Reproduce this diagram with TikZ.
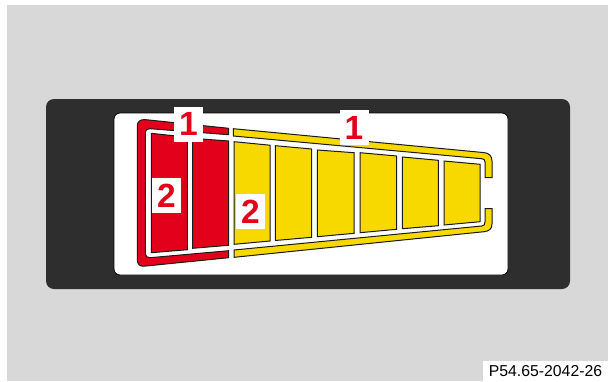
\documentclass[tikz,border=0pt]{standalone}
\usepackage{fontspec}
\setmainfont{Liberation Sans}
\definecolor{bgray}{HTML}{D8D8D8}
\definecolor{panel}{HTML}{2E2E2E}
\definecolor{mbred}{HTML}{E2001A}
\definecolor{mbyel}{HTML}{F7D900}
\definecolor{ink}{HTML}{1A1A1A}
\tikzset{
  redpart/.style={fill=mbred,draw=ink,line width=1pt,line join=miter},
  yelpart/.style={fill=mbyel,draw=ink,line width=1pt,line join=miter},
  numlabel/.style={fill=white,text=mbred,inner sep=0pt,minimum width=29pt,minimum height=35pt,font=\fontsize{33.5}{33}\selectfont\bfseries},
  codelabel/.style={fill=white,text=black,inner sep=0pt,minimum width=125pt,minimum height=20pt,font=\fontsize{15.8}{16}\selectfont}
}
\begin{document}
\begin{tikzpicture}[x=1pt,y=-1pt]
\useasboundingbox (0,0) rectangle (608,381);
\fill[white] (0,0) rectangle (608,381);
\fill[bgray] (7,5) rectangle (608,381);
\fill[panel,rounded corners=8pt] (46,99) rectangle (570,289);
\draw[fill=white,draw=black,line width=0.8pt,rounded corners=6pt] (114,113) rectangle (508,275);
% red band
\path[redpart] (228.7,128.3) -- (145,119.6) .. controls (140,119.2) and (137.3,122) .. (137.3,126)
  -- (137.3,259.5) .. controls (137.3,264) and (139.5,266.6) .. (144,266.2) -- (228.7,257.7) -- (228.7,250.7)
  -- (150,257.7) .. controls (147,258) and (145.3,256) .. (145.3,253.5) -- (145.3,132.5)
  .. controls (145.3,130) and (147,128.5) .. (150,128.7) -- (228.7,134.7) -- cycle;
% yellow bands
\path[yelpart] (233.3,128.7) -- (484,152.6) .. controls (489,153) and (492,156) .. (492,161)
  -- (492,177.7) -- (485,177.7) -- (485,162) .. controls (485,160) and (484,158.9) .. (481.7,158.7) -- (233.3,136) -- cycle;
\path[yelpart] (234,257.3) -- (484,231.7) .. controls (489,231.2) and (492,229) .. (492,224)
  -- (492,208.7) -- (485,208.7) -- (485,222) .. controls (485,224.5) and (484,225.8) .. (481.7,226) -- (234,250) -- cycle;
% cells
\path[redpart] (151.3,133.3) -- (187.3,137.2) -- (187.3,249.7) -- (151.3,252.7) -- cycle;
\path[redpart] (192.7,138.3) -- (228.7,141) -- (228.7,245.3) -- (192.7,248.3) -- cycle;
\path[yelpart] (234,141.7) -- (270,145.2) -- (270,241) -- (234,244.3) -- cycle;
\path[yelpart] (275.3,145.7) -- (311.7,149) -- (311.7,237.3) -- (275.3,240.5) -- cycle;
\path[yelpart] (317.3,150) -- (354,152.7) -- (354,233.3) -- (317.3,236.7) -- cycle;
\path[yelpart] (360,152.7) -- (396.7,156) -- (396.7,229.3) -- (360,232.7) -- cycle;
\path[yelpart] (402.3,157) -- (438.3,160.3) -- (438.3,225.7) -- (402.3,228.7) -- cycle;
\path[yelpart] (444,161) -- (480,164.3) -- (480,221.7) -- (444,225) -- cycle;
% labels
\node[numlabel] (lone) at (188.5,124.2) {1};
\node[numlabel] (ltwo) at (354,127.5) {1};
\node[numlabel] (lthree) at (166.5,195.3) {2};
\node[numlabel] (lfour) at (250.5,211.3) {2};
\node[codelabel] (code) at (545.5,371) {P54.65-2042-26};
\end{tikzpicture}
\end{document}
